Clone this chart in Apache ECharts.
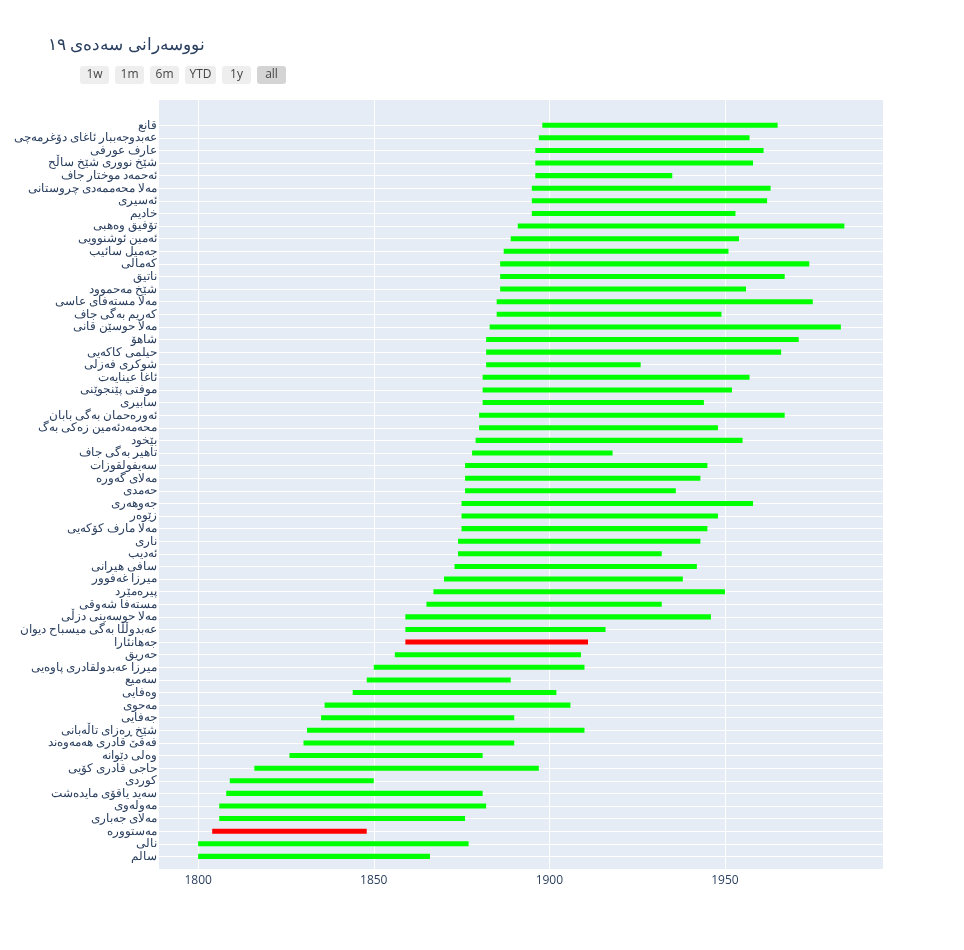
<!DOCTYPE html>
<html>
<head>
<meta charset="utf-8">
<script src="https://cdn.jsdelivr.net/npm/echarts@6/dist/echarts.min.js"></script>
<style>html,body{margin:0;padding:0;background:#fff}#c{width:964px;height:950px}</style>
</head>
<body>
<div id="c"></div>
<script>
// Data, listed bottom to top (row 0 = bottom)
const poets = ['سالم','نالی','مەستوورە','مەلای جەباری','مەولەوی','سەید یاقۆی مایدەشت','کوردی','حاجی قادری کۆیی','وەلی دێوانە','فەقێ قادری هەمەوەند','شێخ ڕەزای تاڵەبانی','جەفایی','مەحوی','وەفایی','سەمیع','میرزا عەبدولقادری پاوەیی','حەریق','جەهانئارا','عەبدوڵڵا بەگی میسباح دیوان','مەلا حوسەینی دزڵی','مستەفا شەوقی','پیرەمێرد','میرزا غەفوور','سافی هیرانی','ئەدیب','ناری','مەلا مارف کۆکەیی','زێوەر','جەوهەری','حەمدی','مەلای گەورە','سەیفولقوزات','تاهیر بەگی جاف','بێخود','محەمەدئەمین زەکی بەگ','ئەورەحمان بەگی بابان','سابیری','موفتی پێنجوێنی','ئاغا عینایەت','شوکری فەزلی','حیلمی کاکەیی','شاهۆ','مەلا حوسێن قانی','کەریم بەگی جاف','مەلا مستەفای عاسی','شێخ مەحموود','ناتیق','کەمالی','جەمیل سائیب','ئەمین ئوشنوویی','تۆفیق وەهبی','خادیم','ئەسیری','مەلا محەممەدی چروستانی','ئەحمەد موختار جاف','شێخ نووری شێخ ساڵح','عارف عورفی','عەبدوجەببار ئاغای دۆغرمەچی','قانع'];
const startYears = [1800,1800,1804,1806,1806,1808,1809,1816,1826,1830,1831,1835,1836,1844,1848,1850,1856,1859,1859,1859,1865,1867,1870,1873,1874,1874,1875,1875,1875,1876,1876,1876,1878,1879,1880,1880,1881,1881,1881,1882,1882,1882,1883,1885,1885,1886,1886,1886,1887,1889,1891,1895,1895,1895,1896,1896,1896,1897,1898];
const endYears = [1866,1877,1848,1876,1882,1881,1850,1897,1881,1890,1910,1890,1906,1902,1889,1910,1909,1911,1916,1946,1932,1950,1938,1942,1932,1943,1945,1948,1958,1936,1943,1945,1918,1955,1948,1967,1944,1952,1957,1926,1966,1971,1983,1949,1975,1956,1967,1974,1951,1954,1984,1953,1962,1963,1935,1958,1961,1957,1965];
const groups = ['a','a','b','a','a','a','a','a','a','a','a','a','a','a','a','a','a','b','a','a','a','a','a','a','a','a','a','a','a','a','a','a','a','a','a','a','a','a','a','a','a','a','a','a','a','a','a','a','a','a','a','a','a','a','a','a','a','a','a'];
const groupColors = {a: '#00FF00', b: '#FF0000'};
const xTicks = [1800, 1850, 1900, 1950];
const titleText = 'نووسەرانی سەدەی ١٩';
const buttons = ['1w','1m','6m','YTD','1y','all'];

// category axis: padding rows (-1 below, 59 and 60 above)
const yCats = [''].concat(poets, ['', '']);
const seriesData = poets.map((p, i) => ({
  value: [startYears[i], endYears[i], i + 1],
  itemStyle: {color: groupColors[groups[i]]}
}));

const font = '"Open Sans", verdana, arial, sans-serif';
const btnX = [80, 115, 150, 185, 222, 257];
const btnW = [29, 29, 29, 31, 29, 29];
const graphics = buttons.map((b, i) => ({
  type: 'group', left: btnX[i], top: 66,
  children: [
    {type: 'rect', shape: {x: 0, y: 0, width: btnW[i], height: 18, r: 3},
     style: {fill: b === 'all' ? '#d4d4d4' : '#eeeeee'}},
    {type: 'text', x: btnW[i] / 2, y: 9,
     style: {text: b, fill: '#444', font: '12px ' + font, align: 'center', verticalAlign: 'middle'}}
  ]
}));

const chart = echarts.init(document.getElementById('c'), null, {renderer: 'canvas'});
chart.setOption({
  backgroundColor: '#ffffff',
  animation: false,
  title: {
    text: titleText, left: 43, top: 32,
    textStyle: {fontFamily: font, fontSize: 17, fontWeight: 'normal', color: '#2a3f5f'}
  },
  graphic: graphics,
  grid: {left: 159, right: 81, top: 100, bottom: 81, show: true, backgroundColor: '#E5ECF6', borderWidth: 0},
  xAxis: {
    type: 'value', min: 1788.85, max: 1995.0, splitNumber: 4, minInterval: 50, maxInterval: 50,
    axisLine: {show: false}, axisTick: {show: false},
    axisLabel: {
      color: '#2a3f5f', fontFamily: font, fontSize: 12, margin: 6,
      showMinLabel: false, showMaxLabel: false,
      formatter: v => (xTicks.indexOf(v) >= 0 ? String(v) : '')
    },
    splitLine: {show: true, showMinLine: false, showMaxLine: false, lineStyle: {color: '#ffffff', width: 1}}
  },
  yAxis: {
    type: 'category', data: yCats, boundaryGap: false,
    axisLine: {show: false}, axisTick: {show: false},
    axisLabel: {interval: 0, color: '#2a3f5f', fontFamily: font, fontSize: 12, margin: 2, padding: [2, 0, 0, 0]},
    splitLine: {show: true, interval: (idx) => idx >= 1 && idx <= poets.length, lineStyle: {color: '#ffffff', width: 1}}
  },
  series: [{
    type: 'custom',
    encode: {x: [0, 1], y: 2},
    renderItem: function (params, api) {
      const y = api.value(2);
      const s = api.coord([api.value(0), y]);
      const e = api.coord([api.value(1), y]);
      const s2 = api.coord([api.value(0), y + 1]);
      const h = Math.abs(s2[1] - s[1]) * 0.4;
      return {
        type: 'rect',
        shape: {x: s[0], y: s[1] - h / 2, width: e[0] - s[0], height: h},
        style: {fill: api.visual('color')}
      };
    },
    data: seriesData
  }]
});
</script>
</body>
</html>
